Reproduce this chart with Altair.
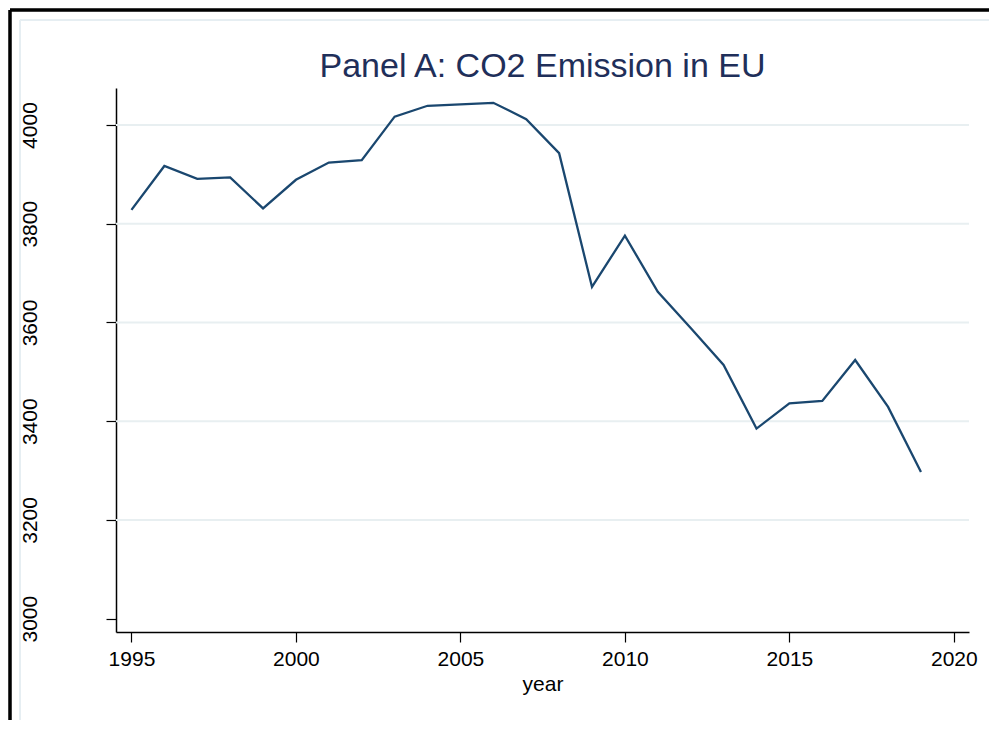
import altair as alt
import pandas as pd

years = list(range(1995, 2020))
co2 = [3828, 3917, 3891, 3894, 3831, 3889, 3924, 3929, 4017, 4039, 4042, 4045,
       4012, 3943, 3672, 3776, 3662, 3589, 3514, 3385, 3436, 3441, 3524, 3429, 3297]
x_ticks = [1995, 2000, 2005, 2010, 2015, 2020]
y_ticks = [3000, 3200, 3400, 3600, 3800, 4000]
grid_vals = [3200, 3400, 3600, 3800, 4000]
title_text = ["Panel A: CO2 Emission in EU"]

df = pd.DataFrame({"year": years, "co2": co2})
grid_df = pd.DataFrame({"co2": grid_vals})
title_df = pd.DataFrame({"t": title_text})

FONT = "Liberation Sans"
xs = alt.Scale(domain=[1994.53, 2020.46], nice=False, zero=False)
ys = alt.Scale(domain=[2973, 4075], nice=False, zero=False)

yaxis = alt.Axis(values=y_ticks, format="d", title=None, grid=False,
                 domainColor="black", domainWidth=1.5, tickColor="black",
                 tickWidth=1.2, tickSize=10, labelFontSize=21,
                 labelColor="black", labelPadding=66, labelAngle=270,
                 labelAlign="center", labelBaseline="bottom",
                 labelFont=FONT)

grid = alt.Chart(grid_df).mark_rule(color="#e8eff1", strokeWidth=2).encode(
    y=alt.Y("co2:Q", scale=ys, axis=yaxis)
)

line = alt.Chart(df).mark_line(color="#1a476f", strokeWidth=2.3).encode(
    x=alt.X("year:Q", scale=xs,
            axis=alt.Axis(values=x_ticks, format="d", title="year", grid=False,
                          domainColor="black", domainWidth=1.5, tickColor="black",
                          tickWidth=1.2, tickSize=10, labelFontSize=21,
                          labelColor="black", labelPadding=6, labelFont=FONT,
                          titleFont=FONT, titleFontSize=21, titleFontWeight="normal",
                          titleColor="black", titlePadding=4)),
    y=alt.Y("co2:Q", scale=ys, axis=yaxis),
)

title = alt.Chart(title_df).mark_text(
    font=FONT, fontSize=34, color="#1f2f5a", align="center", baseline="alphabetic"
).encode(text="t:N", x=alt.value(426.5), y=alt.value(-11))

# screenshot frame decorations
frame_top = alt.Chart(grid_df).mark_rule(color="black", strokeWidth=2.5, clip=False).encode(
    x=alt.value(-106), x2=alt.value(900), y=alt.value(-78)
)
frame_left = alt.Chart(grid_df).mark_rule(color="black", strokeWidth=2.5, clip=False).encode(
    x=alt.value(-106), y=alt.value(-78), y2=alt.value(720)
)
inner_top = alt.Chart(grid_df).mark_rule(color="#e6eef2", strokeWidth=1.5, clip=False).encode(
    x=alt.value(-96), x2=alt.value(878), y=alt.value(-68)
)
inner_left = alt.Chart(grid_df).mark_rule(color="#e6eef2", strokeWidth=1.5, clip=False).encode(
    x=alt.value(-96), y=alt.value(-68), y2=alt.value(640)
)
inner_bottom = alt.Chart(grid_df).mark_rule(color="#e6eef2", strokeWidth=1.5, clip=False).encode(
    x=alt.value(-96), x2=alt.value(878), y=alt.value(640)
)

chart = alt.layer(grid, line, title, frame_top, frame_left, inner_top, inner_left,
                  inner_bottom).properties(
    width=853, height=544,
    autosize=alt.AutoSizeParams(type="none"),
    padding={"left": 108, "top": 80, "right": 20, "bottom": 88},
    view=alt.ViewBackground(stroke="transparent"),
).configure_view(stroke="transparent").configure(background="white")

chart.save("out.html", embed_options={"renderer": "svg", "actions": False})
